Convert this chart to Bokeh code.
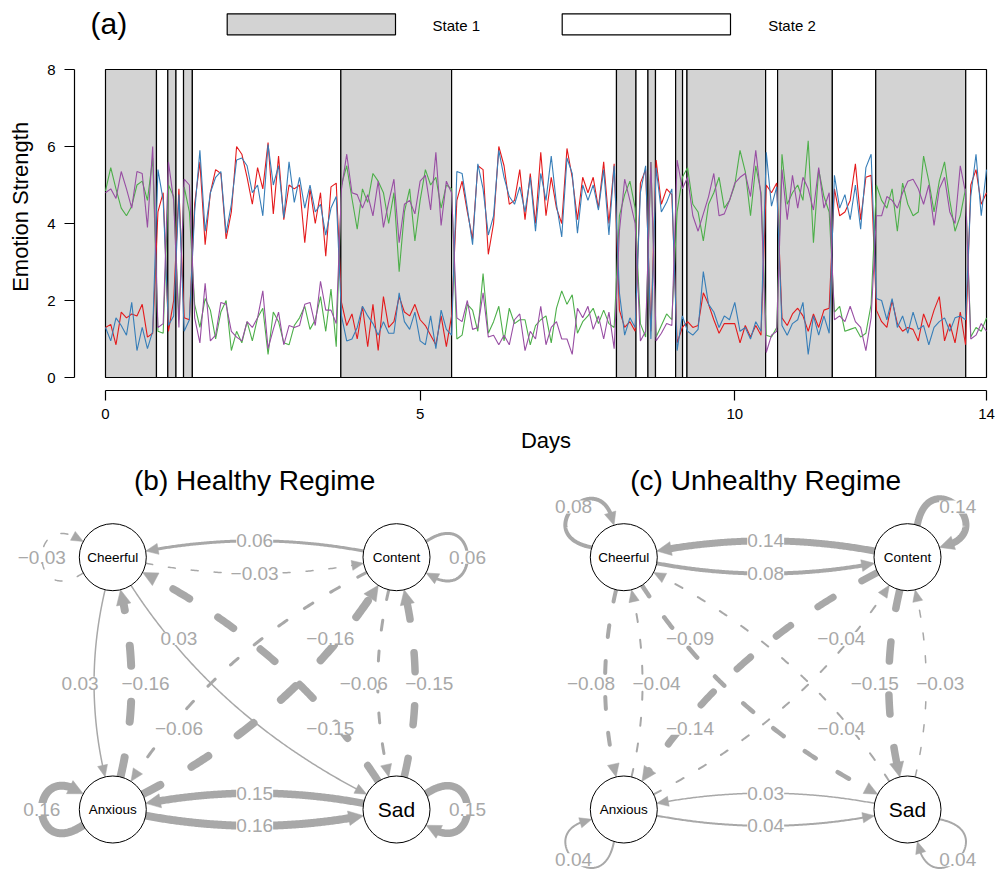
import numpy as np
from bokeh.plotting import figure
from bokeh.models import Range1d, FixedTicker
from bokeh.layouts import column, row
from bokeh.embed import file_html
from bokeh.resources import INLINE
from bokeh.core.properties import value

FONT = "Liberation Sans"

# ---------------- (a) time series data ----------------
samples_per_day = 12
purple = [4.8, 4.9, 4.65, 5.35, 4.9, 4.4, 5.35, 5.3, 3.9, 6.0,
          1.30, 1.40, 5.60, 4.6, 1.30, 5.15, 5.0,
          1.55, 0.9, 2.45, 0.95, 1.1, 1.95, 1.9, 1.2, 1.05, 0.95, 1.45, 1.3, 1.55, 2.25,
          0.75, 1.25, 1.7, 0.85, 1.35, 1.3, 1.35, 1.9, 1.95, 1.35, 2.5, 1.75, 1.75, 1.4,
          4.9, 5.8, 4.8, 4.75, 4.4, 4.75, 4.2, 5.1, 3.9, 4.55, 5.15, 3.5, 4.5, 4.6, 4.25,
          5.1, 5.25, 4.35, 5.85, 3.95, 5.1, 4.8,
          1.55, 1.45, 2.0, 1.25, 1.3, 2.2, 1.05, 1.1, 0.85, 1.1, 0.85, 1.5, 1.65, 0.7, 1.2,
          1.0, 1.85, 0.85, 1.3, 1.45, 1.0, 1.0, 0.6, 1.8, 1.55, 1.85, 1.25, 1.6, 1.0, 1.7, 0.75,
          3.8, 5.15, 4.6, 4.0, 0.95, 1.2, 5.6, 0.95, 1.15, 1.4, 1.35, 5.65, 4.9,
          5.2, 4.2, 3.8, 4.25, 4.7, 5.3, 4.2, 4.25, 4.6, 5.05, 5.2, 5.3, 4.7, 5.9, 4.7,
          0.65, 1.1, 1.2,
          5.4, 4.1, 5.25, 4.4, 5.2, 4.9, 4.35, 5.45, 4.4, 4.8,
          1.5, 1.6, 1.45, 1.85, 1.45, 1.3, 0.7, 1.55,
          4.2, 4.2, 4.7, 4.6, 4.4, 4.8, 5.1, 5.15, 4.9, 4.5, 5.0, 3.95, 4.9, 5.2, 4.3, 4.0, 5.5, 4.8,
          1.0, 1.1, 1.4, 1.2]
green = [4.85, 5.45, 4.9, 4.4, 4.2, 4.45, 5.0, 5.1, 4.6, 5.7,
         1.20, 1.15, 5.0, 4.7, 1.50, 4.95, 4.3,
         1.9, 1.3, 2.05, 1.75, 1.0, 1.7, 2.0, 0.7, 1.2, 0.9, 1.45, 0.95, 1.55, 1.8,
         0.6, 1.7, 1.45, 0.9, 0.85, 1.35, 1.55, 1.85, 1.25, 1.5, 2.1, 1.2, 2.3, 0.8,
         5.0, 5.5, 4.65, 3.85, 4.9, 4.55, 5.3, 5.1, 4.8, 4.0, 4.8, 2.75, 4.3, 4.9, 3.55,
         4.6, 5.4, 5.0, 5.2, 4.4, 5.0, 4.9,
         1.0, 1.1, 1.9, 1.75, 1.2, 2.7, 1.15, 1.45, 1.85, 0.95, 1.8, 1.4, 1.5, 1.5, 0.85,
         1.35, 1.5, 1.6, 0.9, 1.8, 2.25, 1.9, 2.15, 1.15, 1.45, 1.6, 1.8, 1.4, 1.75, 1.4, 1.3,
         4.2, 4.75, 5.1, 4.4, 1.4, 1.05, 5.6, 1.05, 1.35, 1.65, 1.5, 4.3, 5.2,
         5.45, 4.5, 4.3, 3.55, 4.5, 4.8, 5.2, 4.4, 4.6, 5.0, 5.9, 5.35, 4.2, 5.5, 4.8,
         1.1, 1.05, 1.3,
         5.8, 4.5, 4.8, 5.0, 4.6, 6.15, 3.5, 5.4, 4.7, 4.3,
         1.7, 1.85, 1.2, 1.25, 1.3, 1.05, 1.15, 1.9,
         5.0, 4.6, 4.4, 4.9, 3.8, 5.05, 4.5, 4.2, 4.3, 5.75, 5.1, 4.3, 5.1, 5.6, 4.6, 3.8, 4.2, 4.9,
         1.05, 1.3, 1.2, 1.55]
red = [1.30, 1.38, 0.85, 1.70, 1.55, 1.65, 1.60, 1.90, 1.05, 1.15,
       4.30, 4.80, 1.20, 2.0, 4.90, 1.55, 1.50,
       4.5, 5.6, 3.45, 4.8, 5.4, 5.3, 3.6, 4.3, 6.0, 5.8, 5.2, 4.5, 5.45, 4.9,
       6.1, 4.25, 5.75, 4.1, 5.0, 4.9, 5.0, 3.5, 4.9, 4.0, 4.8, 3.15, 4.95, 5.05,
       1.95, 1.35, 1.65, 1.0, 1.85, 0.8, 1.9, 0.7, 2.1, 1.3, 1.45, 2.1, 1.7, 1.6, 1.9,
       1.5, 1.35, 1.1, 0.85, 1.6, 0.8, 1.6,
       4.6, 5.1, 4.3, 3.6, 5.5, 5.4, 3.2, 4.0, 6.0, 5.5, 4.5, 4.6, 5.4, 4.1, 5.3,
       4.0, 5.85, 4.2, 5.2, 4.4, 4.0, 5.95, 5.2, 4.1, 5.2, 4.8, 5.2, 4.4, 5.6, 4.0, 5.55,
       1.75, 1.3, 1.45, 1.2, 5.05, 5.4, 1.2, 5.65, 4.5, 4.9, 4.75, 0.9, 1.3,
       1.45, 1.3, 1.35, 2.2, 1.9, 1.5, 1.15, 1.4, 1.4, 1.4, 0.9, 1.35, 1.05, 1.35, 1.1,
       5.0, 4.8, 5.05,
       1.55, 1.35, 1.65, 1.8, 1.6, 1.2, 1.65, 1.3, 1.75, 1.8,
       4.9, 4.2, 4.3, 4.6, 5.55, 4.1, 5.2, 5.25,
       1.75, 1.45, 1.3, 2.0, 1.4, 1.2, 1.3, 1.25, 0.95, 1.65, 1.3, 1.75, 2.1, 0.95, 1.4, 0.9, 1.7, 0.85,
       5.0, 5.4, 4.5, 4.8]
blue = [1.30, 0.95, 1.55, 1.35, 1.10, 1.95, 0.70, 1.30, 0.75, 1.20,
        5.40, 4.60, 1.35, 1.6, 4.75, 1.20, 1.50,
        4.3, 5.9, 3.8, 4.8, 5.2, 5.35, 3.75, 4.5, 5.65, 5.7, 5.5, 4.8, 5.0, 4.2,
        6.05, 5.0, 5.5, 4.15, 5.6, 4.55, 5.2, 4.4, 5.0, 4.3, 4.5, 3.7, 4.4, 4.7,
        1.6, 0.95, 1.0, 1.3, 1.85, 1.6, 1.4, 1.1, 1.45, 1.15, 1.15, 2.2, 1.45, 1.25, 1.7,
        0.95, 0.85, 1.6, 0.75, 1.75, 1.25, 1.1,
        5.35, 5.3, 4.4, 3.45, 5.55, 4.9, 3.7, 4.2, 5.9, 5.2, 4.7, 4.5, 4.95, 4.3, 5.2,
        3.8, 5.3, 4.6, 5.75, 4.5, 3.65, 5.7, 5.3, 3.75, 5.0, 4.6, 5.0, 4.35, 5.4, 3.7, 5.5,
        2.2, 1.1, 1.55, 1.3, 4.8, 5.5, 1.0, 5.45, 4.3, 4.55, 4.9, 0.7, 1.6,
        1.2, 1.1, 1.25, 2.75, 1.9, 1.7, 1.3, 1.6, 1.5, 1.95, 1.2, 1.3, 1.0, 1.45, 1.2,
        5.85, 4.45, 4.95,
        1.35, 1.1, 1.4, 1.5, 1.95, 0.6, 1.6, 1.1, 1.6, 1.15,
        5.25, 4.4, 4.75, 4.1, 5.0, 3.85, 5.45, 5.8,
        2.05, 2.0, 1.5, 2.05, 1.3, 1.6, 1.15, 1.7, 1.25, 1.35, 0.85, 1.3, 1.45, 1.55, 1.2, 1.55, 1.6, 1.5,
        4.7, 5.8, 4.2, 5.4]

state_starts = [0.0, 0.81, 0.99, 1.12, 1.24, 1.38, 3.74, 5.50, 8.12, 8.43,
                8.62, 8.74, 9.06, 9.17, 9.24, 10.49, 10.68, 11.55, 12.24, 13.67]
state_ids = [1, 2, 1, 2, 1, 2, 1, 2, 1, 2, 1, 2, 1, 2, 1, 2, 1, 2, 1, 2]
total_days = 14.0
state_names = ["State 1", "State 2"]
state_fill = {1: "#D3D3D3", 2: "white"}

x_ticks = [0, 5, 10, 14]
y_ticks = [0, 2, 4, 6, 8]

# ---------------- (b)/(c) network data ----------------
edge_from = ["Content", "Cheerful", "Cheerful", "Content", "Anxious", "Sad", "Sad", "Anxious",
             "Cheerful", "Anxious", "Content", "Sad", "Cheerful", "Sad", "Content", "Anxious"]
edge_to = ["Cheerful", "Content", "Cheerful", "Content", "Anxious", "Sad", "Anxious", "Sad",
           "Anxious", "Cheerful", "Sad", "Content", "Sad", "Cheerful", "Anxious", "Content"]
healthy_w = [0.06, -0.03, -0.03, 0.06, 0.16, 0.15, 0.15, 0.16,
             0.03, -0.16, -0.06, -0.15, 0.03, -0.15, -0.06, -0.16]
unhealthy_w = [0.14, 0.08, 0.08, 0.14, 0.04, 0.04, 0.03, 0.04,
               -0.08, -0.04, -0.15, -0.03, -0.09, -0.04, -0.14, -0.04]
node_names = ["Cheerful", "Content", "Anxious", "Sad"]

# =====================================================
PX_DAY = (986 - 105) / 14.0
PX_UNIT = 308 / 8.0


def dx(px):
    return (px - 105) / PX_DAY


def dy(py):
    return 8 + (69 - py) / PX_UNIT


def blank(w, h, xr, yr):
    f = figure(width=w, height=h, x_range=xr, y_range=yr, output_backend="svg",
               toolbar_location=None, x_axis_type=None, y_axis_type=None, min_border=0,
               outline_line_color=None)
    f.background_fill_color = "white"
    f.border_fill_color = "white"
    return f


# legend strip (page y 0..56)
leg = blank(995, 56, Range1d(dx(0), dx(995)), Range1d(dy(56), dy(0)))
leg.quad(left=[dx(226.7), dx(561.7)], right=[dx(395), dx(730)], bottom=[dy(34.3)] * 2,
         top=[dy(13.3)] * 2, fill_color=[state_fill[1], state_fill[2]], line_color="black",
         line_width=1.2)
leg.text(x=[dx(432), dx(767.7)], y=[dy(25)] * 2, text=state_names, text_font=value(FONT),
         text_font_size="15px", text_align="left", text_baseline="middle", text_color="black")
leg.text(x=[dx(90)], y=[dy(23)], text=["(a)"], text_font=value(FONT), text_font_size="30px",
         text_align="left", text_baseline="middle", text_color="black")

TS_H = 371  # page y 56..427

# y label strip (page x 0..40)
ylab = blank(40, TS_H, Range1d(0, 40), Range1d(dy(56 + TS_H), dy(56)))
ylab.text(x=[20], y=[4], text=["Emotion Strength"], angle=np.pi / 2, text_font=value(FONT),
          text_font_size="22px", text_align="center", text_baseline="middle",
          text_color="black")

# time series (page x 40..995; frame x 74..995, y 56..390)
top = figure(width=955, height=TS_H, x_range=Range1d(dx(74), dx(995)),
             y_range=Range1d(dy(390), dy(56)), output_backend="svg", toolbar_location=None,
             min_border_left=34, min_border_right=0, min_border_top=0,
             min_border_bottom=56 + TS_H - 390, outline_line_color=None)
top.grid.visible = False
top.background_fill_color = "white"
top.border_fill_color = "white"

state_ends = state_starts[1:] + [total_days]
top.quad(left=state_starts, right=state_ends, bottom=0, top=8,
         fill_color=[state_fill[s] for s in state_ids], line_color="black", line_width=1.2)

t = np.arange(len(red)) / samples_per_day
for series, col in [(red, "#E41A1C"), (green, "#4DAF4A"), (blue, "#377EB8"), (purple, "#984EA3")]:
    top.line(t, series, line_color=col, line_width=1.1)

for ax in (top.xaxis, top.yaxis):
    ax.axis_line_color = "black"
    ax.axis_line_width = 1.2
    ax.major_tick_line_color = "black"
    ax.major_tick_line_width = 1.2
    ax.major_tick_out = 10
    ax.major_tick_in = 0
    ax.minor_tick_line_color = None
    ax.major_label_text_font = FONT
    ax.major_label_text_font_size = "15px"
    ax.major_label_text_color = "black"
top.xaxis.major_label_standoff = 8
top.yaxis.major_label_standoff = 9
top.xaxis.ticker = FixedTicker(ticks=x_ticks)
top.yaxis.ticker = FixedTicker(ticks=y_ticks)
top.xaxis.bounds = (0, 14)
top.yaxis.bounds = (0, 8)

# x label strip (page y 427..460)
XL_H = 460 - 56 - TS_H
xlab = blank(995, XL_H, Range1d(dx(0), dx(995)), Range1d(0, XL_H))
xlab.text(x=[7], y=[XL_H - (440 - 56 - TS_H)], text=["Days"], text_font=value(FONT),
          text_font_size="22px", text_align="center", text_baseline="middle",
          text_color="black")

# =====================================================
GRAY = "#A8A8A8"
R_NODE = 33.5
H = 413
UNIT_POS = {"Cheerful": (-1, 1), "Content": (1, 1), "Anxious": (-1, -1), "Sad": (1, -1)}


def uvec(a):
    return np.array([np.cos(a), np.sin(a)])


def norm(v):
    return v / np.hypot(v[0], v[1])


def quad_bez(p0, pc, p2, ts):
    ts = np.atleast_1d(ts)[:, None]
    return (1 - ts) ** 2 * p0 + 2 * (1 - ts) * ts * pc + ts ** 2 * p2


def cubic_bez(p0, p1, p2, p3, ts):
    ts = np.atleast_1d(ts)[:, None]
    return ((1 - ts) ** 3 * p0 + 3 * (1 - ts) ** 2 * ts * p1 + 3 * (1 - ts) * ts ** 2 * p2
            + ts ** 3 * p3)


def fmt(w):
    s = f"{abs(w):.2f}"
    return ("\u2212" + s) if w < 0 else s


def network(title, fig_w, cx, weights, loop_angles):
    p = blank(fig_w, H, Range1d(0, fig_w), Range1d(0, H))
    cy, hx, hy = 190.15, 141.85, 126.15

    def to_px(n):
        return np.array([cx + n[0] * hx, cy + n[1] * hy])

    pos = {k: to_px(np.array(v, float)) for k, v in UNIT_POS.items()}
    ts = np.linspace(0, 1, 160)
    tri_x, tri_y = [], []
    lab_x, lab_y, lab_t = [], [], []
    for s, d, w in zip(edge_from, edge_to, weights):
        lw = max(1.0, 50 * abs(w))
        alen = 11 + 0.5 * lw
        ahw = 4.5 + 0.35 * lw
        if s == d:
            c = pos[s]
            phi = np.radians(loop_angles[s])
            a, b = np.radians(28), np.radians(32)
            P0 = c + R_NODE * uvec(phi + a)
            P1 = c + 100 * uvec(phi + b)
            P2 = c + 100 * uvec(phi - b)
            P3 = c + R_NODE * uvec(phi - a)
            pts = cubic_bez(P0, P1, P2, P3, ts)
            lab = cubic_bez(P0, P1, P2, P3, 0.5)[0]
        else:
            n0 = np.array(UNIT_POS[s], float)
            n1 = np.array(UNIT_POS[d], float)
            dn = n1 - n0
            L = np.hypot(dn[0], dn[1])
            perp = np.array([dn[1], -dn[0]]) / L
            perp_px = norm(np.array([perp[0] * hx, perp[1] * hy]))
            diag = dn[0] != 0 and dn[1] != 0
            k = 0.135 if diag else 0.105
            Pc = to_px((n0 + n1) / 2 + k * L * perp)
            P0 = pos[s] + R_NODE * norm(Pc - pos[s])
            P2 = pos[d] + R_NODE * norm(Pc - pos[d])
            pts = quad_bez(P0, Pc, P2, ts)
            if diag:
                lt = 0.23 if {s, d} == {"Cheerful", "Sad"} else 0.77
                lab = quad_bez(P0, Pc, P2, lt)[0] - 7 * perp_px
            elif dn[0] == 0:
                lab = quad_bez(P0, Pc, P2, 0.5)[0] + 14 * perp_px
            else:
                lab = quad_bez(P0, Pc, P2, 0.5)[0]
        tip = pts[-1]
        dist = np.hypot(*(pts - tip).T)
        ib = np.where(dist >= alen)[0][-1]
        dvec = norm(tip - pts[ib])
        base = tip - dvec * alen
        pp = np.array([-dvec[1], dvec[0]])
        tri = [tip, base + pp * ahw, base - pp * ahw]
        tri_x.append([q[0] for q in tri])
        tri_y.append([q[1] for q in tri])
        ic = np.where(dist >= alen * 0.75)[0][-1]
        line_pts = pts[:ic + 1]
        dash = "solid" if w >= 0 else f"{2 * lw + 4:.0f} {3 * lw + 12:.0f}"
        p.line(line_pts[:, 0], line_pts[:, 1], line_color=GRAY, line_width=lw,
               line_dash=dash, line_cap="round", line_join="round")
        lab_x.append(lab[0])
        lab_y.append(lab[1])
        lab_t.append(fmt(w))
    p.patches(tri_x, tri_y, fill_color=GRAY, line_color=GRAY, line_width=0.5)
    p.text(x=lab_x, y=lab_y, text=lab_t, text_font=value(FONT), text_font_size="19px",
           text_color=GRAY, text_align="center", text_baseline="middle",
           background_fill_color="white")
    p.circle(x=[pos[n][0] for n in node_names], y=[pos[n][1] for n in node_names],
             radius=R_NODE, fill_color="white", line_color="black", line_width=1)
    for n in node_names:
        fs = "21px" if len(n) <= 3 else "13.5px"
        p.text(x=[pos[n][0]], y=[pos[n][1]], text=[n], text_font=value(FONT),
               text_font_size=fs, text_color="black", text_align="center",
               text_baseline="middle")
    p.text(x=[cx], y=[393], text=[title], text_font=value(FONT), text_font_size="28px",
           text_color="black", text_align="center", text_baseline="middle")
    return p


pb = network("(b) Healthy Regime", 497, 254.15, healthy_w,
             {"Cheerful": 180, "Anxious": 180, "Content": 0, "Sad": 0})
pc = network("(c) Unhealthy Regime", 498, 268.15, unhealthy_w,
             {"Cheerful": 135, "Content": 45, "Anxious": 225, "Sad": 315})

layout = column(leg, row(ylab, top), xlab, row(pb, pc))
open("out.html", "w").write(file_html(layout, INLINE))
